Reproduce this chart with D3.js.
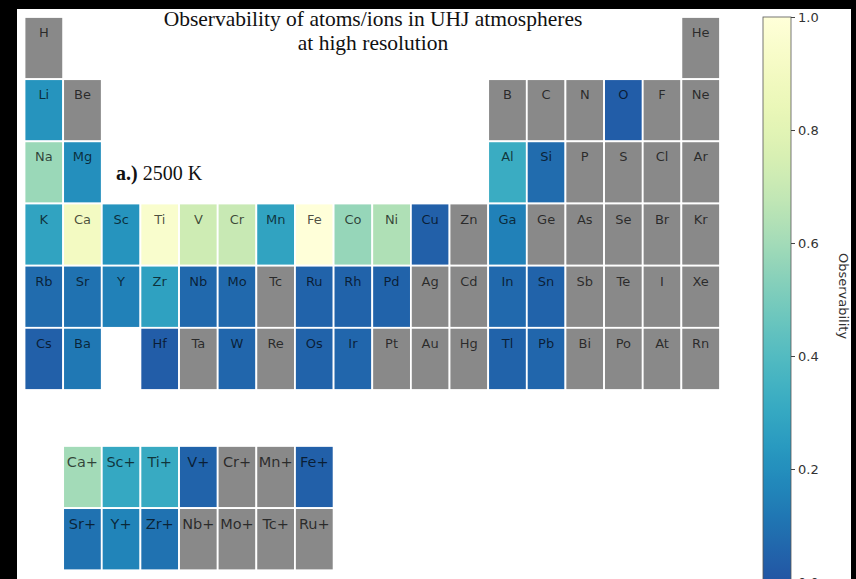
<!DOCTYPE html>
<html>
<head>
<meta charset="utf-8">
<script src="https://cdn.jsdelivr.net/npm/d3@7"></script>
<style>
  html, body { margin: 0; padding: 0; background: #000; }
  svg { display: block; }
</style>
</head>
<body>
<svg id="chart" width="856" height="579"></svg>
<script>
// Neutral atoms: symbol, group (column 0-17), period (row 0-5), observability (null = not observable)
const elementSymbols = [
  "H","He",
  "Li","Be","B","C","N","O","F","Ne",
  "Na","Mg","Al","Si","P","S","Cl","Ar",
  "K","Ca","Sc","Ti","V","Cr","Mn","Fe","Co","Ni","Cu","Zn","Ga","Ge","As","Se","Br","Kr",
  "Rb","Sr","Y","Zr","Nb","Mo","Tc","Ru","Rh","Pd","Ag","Cd","In","Sn","Sb","Te","I","Xe",
  "Cs","Ba","Hf","Ta","W","Re","Os","Ir","Pt","Au","Hg","Tl","Pb","Bi","Po","At","Rn"
];
const elementGroups = [
  0,17,
  0,1,12,13,14,15,16,17,
  0,1,12,13,14,15,16,17,
  0,1,2,3,4,5,6,7,8,9,10,11,12,13,14,15,16,17,
  0,1,2,3,4,5,6,7,8,9,10,11,12,13,14,15,16,17,
  0,1,3,4,5,6,7,8,9,10,11,12,13,14,15,16,17
];
const elementPeriods = [
  0,0,
  1,1,1,1,1,1,1,1,
  2,2,2,2,2,2,2,2,
  3,3,3,3,3,3,3,3,3,3,3,3,3,3,3,3,3,3,
  4,4,4,4,4,4,4,4,4,4,4,4,4,4,4,4,4,4,
  5,5,5,5,5,5,5,5,5,5,5,5,5,5,5,5,5
];
const elementObservability = [
  null,null,
  0.22,null,null,null,null,0.03,null,null,
  0.58,0.20,0.32,0.08,null,null,null,null,
  0.28,0.90,0.22,0.95,0.72,0.70,0.28,1.00,0.57,0.63,0.04,null,0.15,null,null,null,null,null,
  0.08,0.10,0.15,0.27,0.07,0.07,null,0.05,0.05,0.05,null,null,0.07,0.05,null,null,null,null,
  0.04,0.12,0.03,null,0.06,null,0.05,0.06,null,null,null,0.05,0.06,null,null,null,null
];

// Singly ionised species, drawn in a separate block below the table
const ionSymbols = ["Ca+","Sc+","Ti+","V+","Cr+","Mn+","Fe+","Sr+","Y+","Zr+","Nb+","Mo+","Tc+","Ru+"];
const ionGroups  = [1,2,3,4,5,6,7,1,2,3,4,5,6,7];
const ionRows    = [6.9,6.9,6.9,6.9,6.9,6.9,6.9,7.9,7.9,7.9,7.9,7.9,7.9,7.9];
const ionObservability = [0.60,0.30,0.31,0.05,null,null,0.04,0.10,0.16,0.10,null,null,null,null];

const colorbarTicks = [0.0, 0.2, 0.4, 0.6, 0.8, 1.0];
const titleLines = ["Observability of atoms/ions in UHJ atmospheres", "at high resolution"];

const svg = d3.select("#chart");
const W = 856, H = 579;

// white plotting canvas inside a thin black frame
svg.append("rect").attr("x", 17).attr("y", 9).attr("width", 834).attr("height", H - 9).attr("fill", "#fff");

const x = d3.scaleLinear().domain([0, 18]).range([24.5, 720]);
const y = d3.scaleLinear().domain([0, 6]).range([17, 390]);
const cw = x(1) - x(0), ch = y(1) - y(0);

const missing = "#898989";
const color = v => v == null ? missing : d3.interpolateYlGnBu((1 - v) * 0.78);

const elements = elementSymbols.map((s, i) => ({
  sym: s, col: elementGroups[i], row: elementPeriods[i], v: elementObservability[i]
}));
const ions = ionSymbols.map((s, i) => ({
  sym: s, col: ionGroups[i], row: ionRows[i], v: ionObservability[i]
}));

function drawCells(data, fontSize, dy) {
  const g = svg.append("g");
  const cell = g.selectAll("g").data(data).join("g")
    .attr("transform", d => `translate(${x(d.col)},${y(d.row)})`);
  cell.append("rect")
    .attr("width", cw).attr("height", ch)
    .attr("fill", d => color(d.v))
    .attr("stroke", "#fff").attr("stroke-width", 1.8);
  cell.append("text")
    .attr("x", cw / 2).attr("y", dy)
    .attr("text-anchor", "middle")
    .attr("font-family", "DejaVu Sans, sans-serif")
    .attr("font-size", fontSize)
    .attr("fill", "#000").attr("fill-opacity", 0.7)
    .text(d => d.sym);
}
drawCells(elements, 13, 20);
drawCells(ions, 14.5, 21);

// title
svg.append("g").selectAll("text").data(titleLines).join("text")
  .attr("x", 373).attr("y", (d, i) => 26 + i * 24)
  .attr("text-anchor", "middle")
  .attr("font-family", "Liberation Serif, Times New Roman, serif")
  .attr("font-size", 21.5)
  .attr("fill", "#111")
  .text(d => d);

// panel label
const lab = svg.append("text")
  .attr("x", 116).attr("y", 180)
  .attr("font-family", "Liberation Serif, Times New Roman, serif")
  .attr("font-size", 20).attr("fill", "#111");
lab.append("tspan").attr("font-weight", "bold").text("a.)");
lab.append("tspan").text(" 2500 K");

// colour bar
const cb = d3.scaleLinear().domain([0, 1]).range([582, 17]);
const cbX = 763, cbW = 28;
const defs = svg.append("defs");
const grad = defs.append("linearGradient").attr("id", "cbgrad")
  .attr("x1", 0).attr("y1", 1).attr("x2", 0).attr("y2", 0);
grad.selectAll("stop").data(d3.range(0, 1.0001, 0.02)).join("stop")
  .attr("offset", d => d).attr("stop-color", d => color(d));
svg.append("rect")
  .attr("x", cbX).attr("y", cb(1)).attr("width", cbW).attr("height", cb(0) - cb(1))
  .attr("fill", "url(#cbgrad)")
  .attr("stroke", "#555").attr("stroke-width", 0.8);

const axis = svg.append("g").attr("transform", `translate(${cbX + cbW},0)`)
  .call(d3.axisRight(cb).tickValues(colorbarTicks).tickFormat(d3.format(".1f")).tickSize(4).tickPadding(3));
axis.select(".domain").remove();
axis.selectAll("line").attr("stroke", "#444");
axis.selectAll("text").attr("font-family", "DejaVu Sans, sans-serif").attr("font-size", 13).attr("fill", "#333");

svg.append("text")
  .attr("transform", "translate(839,296) rotate(90)")
  .attr("text-anchor", "middle")
  .attr("font-family", "DejaVu Sans, sans-serif")
  .attr("font-size", 13).attr("fill", "#333")
  .text("Observability");

// black frame on the right edge
svg.append("rect").attr("x", 851).attr("y", 0).attr("width", 5).attr("height", H).attr("fill", "#000");
</script>
</body>
</html>
